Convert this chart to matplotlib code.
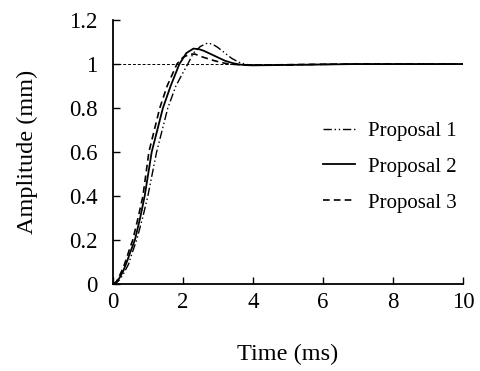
import matplotlib.pyplot as plt

plt.rcParams['font.family'] = ['Liberation Serif', 'DejaVu Serif']

# step responses (time in ms, amplitude in mm)
t1 = [0, 0.1, 0.2, 0.3, 0.45, 0.55, 0.68, 0.85, 1.0, 1.25, 1.57, 1.8, 2.0, 2.14, 2.3, 2.5, 2.7, 2.85, 3.0, 3.2, 3.4, 3.6, 3.8, 4.0, 4.5, 5.0, 5.5, 6.0, 7.0, 8.0, 9.0, 10.0]
a1 = [0, 0.005, 0.02, 0.045, 0.09, 0.14, 0.2, 0.3, 0.4, 0.6, 0.8, 0.9, 0.96, 1.0, 1.05, 1.08, 1.095, 1.09, 1.075, 1.05, 1.025, 1.008, 0.998, 0.995, 0.994, 0.995, 0.997, 0.998, 1.0, 1.0, 1.0, 1.0]

t2 = [0, 0.1, 0.2, 0.3, 0.4, 0.5, 0.63, 0.78, 0.91, 1.11, 1.43, 1.65, 1.9, 2.1, 2.3, 2.45, 2.6, 2.8, 3.0, 3.2, 3.4, 3.6, 3.8, 4.0, 4.5, 5.0, 5.5, 6.0, 7.0, 8.0, 9.0, 10.0]
a2 = [0, 0.008, 0.03, 0.06, 0.1, 0.145, 0.2, 0.3, 0.4, 0.6, 0.8, 0.9, 1.0, 1.05, 1.07, 1.068, 1.06, 1.045, 1.03, 1.015, 1.005, 0.998, 0.995, 0.994, 0.995, 0.996, 0.997, 0.998, 1.0, 1.0, 1.0, 1.0]

t3 = [0, 0.1, 0.2, 0.3, 0.4, 0.48, 0.57, 0.72, 0.86, 1.03, 1.34, 1.55, 1.83, 2.0, 2.2, 2.35, 2.5, 2.7, 2.9, 3.1, 3.3, 3.6, 3.8, 4.0, 4.5, 5.0, 5.5, 6.0, 7.0, 8.0, 9.0, 10.0]
a3 = [0, 0.01, 0.04, 0.075, 0.12, 0.16, 0.2, 0.3, 0.4, 0.6, 0.8, 0.9, 1.0, 1.03, 1.045, 1.045, 1.035, 1.025, 1.015, 1.007, 1.0, 0.997, 0.996, 0.996, 0.996, 0.997, 0.998, 0.999, 1.0, 1.0, 1.0, 1.0]

ref_t = [0, 10]
ref_a = [1, 1]

labels = ['Proposal 1', 'Proposal 2', 'Proposal 3']

fig = plt.figure(figsize=(4.8, 3.71), dpi=100)
ax = fig.add_axes([0.235, 0.2345, 0.73, 0.7115])

ax.plot(ref_t, ref_a, color='black', linewidth=0.7, dashes=(3, 2))
ax.plot(t1, a1, color='black', linewidth=1.0, dashes=(6, 2, 1, 2, 1, 2), label=labels[0])
ax.plot(t2, a2, color='black', linewidth=1.3, label=labels[1])
ax.plot(t3, a3, color='black', linewidth=1.2, dashes=(4, 2.5), label=labels[2])

ax.set_xlim(0, 10)
ax.set_ylim(0, 1.2)
ax.set_xticks([0, 2, 4, 6, 8, 10])
ax.set_yticks([0, 0.2, 0.4, 0.6, 0.8, 1.0, 1.2])
ax.set_yticklabels(['0', '0.2', '0.4', '0.6', '0.8', '1', '1.2'])
ax.spines['top'].set_visible(False)
ax.spines['right'].set_visible(False)
ax.spines['left'].set_linewidth(1.3)
ax.spines['bottom'].set_linewidth(1.3)
ax.tick_params(direction='in', length=5, width=1, labelsize=16.5)
ax.tick_params(axis='x', pad=6)
ax.tick_params(axis='y', pad=11)

ax.set_xlabel('Time (ms)', fontsize=17.5, labelpad=22)
ax.set_ylabel('Amplitude (mm)', fontsize=17.5, labelpad=22)

ax.legend(loc='center left', bbox_to_anchor=(0.673, 0.55), bbox_transform=fig.transFigure,
          frameon=False, fontsize=15, borderpad=0, borderaxespad=0,
          handlelength=1.55, labelspacing=0.78, handletextpad=0.6)

fig.savefig('out.png', dpi=100)
plt.close()
